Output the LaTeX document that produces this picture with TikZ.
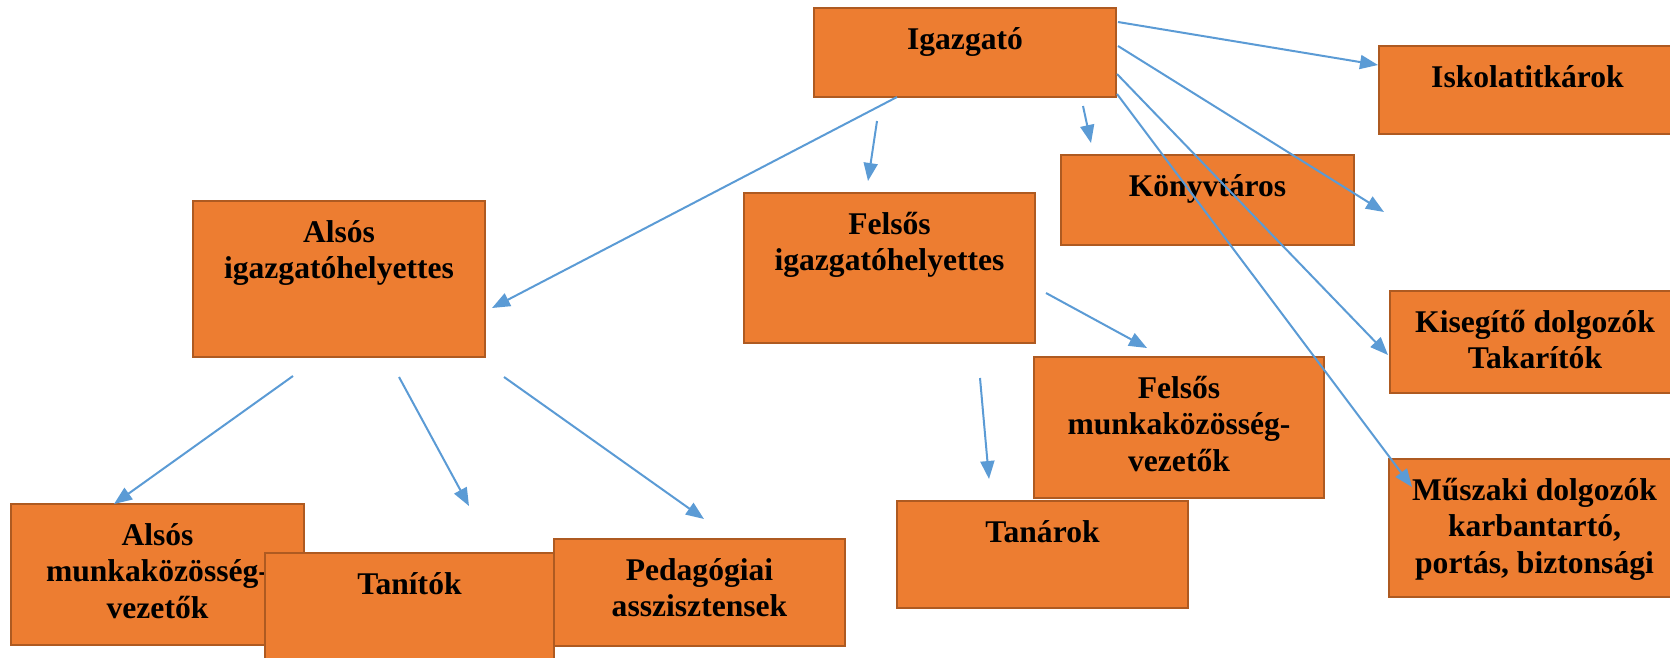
\documentclass[tikz,border=0pt]{standalone}
\usepackage{fontspec}
\setmainfont{Liberation Serif}
\usetikzlibrary{arrows.meta}
\definecolor{boxfill}{HTML}{ED7D31}
\definecolor{boxedge}{HTML}{AE5A21}
\definecolor{arrowblue}{HTML}{5B9BD5}
% box text: width, height, text (first baseline 41pt below the top)
\newcommand{\boxtext}[3]{\parbox[t][#2][t]{#1}{\centering\rule{0pt}{41pt}#3}}
\tikzset{
  orgbox/.style={draw=boxedge,fill=boxfill,line width=2.4pt,inner sep=0pt,outer sep=0pt,
    anchor=north west,font=\bfseries\fontsize{31.6}{36.5}\selectfont},
  arr/.style={draw=arrowblue,line width=2pt,-{Triangle[length=18pt,width=14pt]}}
}
\begin{document}
\begin{tikzpicture}[x=1pt,y=-1pt]
  \useasboundingbox (0,0) rectangle (1670,657);
  \clip (0,0) rectangle (1670,657);
  % boxes
  \node[orgbox] (igazgato) at (814,8) {\boxtext{302pt}{89pt}{Igazgató}};
  \node[orgbox] (iskola) at (1379,46) {\boxtext{297pt}{88pt}{Iskolatitkárok}};
  \node[orgbox] (konyvtaros) at (1061,155) {\boxtext{293pt}{90pt}{Könyvtáros}};
  \node[orgbox] (felsoigh) at (744,193) {\boxtext{291pt}{150pt}{Felsős\\igazgatóhelyettes}};
  \node[orgbox] (alsoigh) at (193,201) {\boxtext{292pt}{156pt}{Alsós\\igazgatóhelyettes}};
  \node[orgbox] (kisegito) at (1390,291) {\boxtext{290pt}{102pt}{Kisegítő dolgozók\\Takarítók}};
  \node[orgbox] (felsomkv) at (1034,357) {\boxtext{290pt}{141pt}{Felsős\\munkaközösség-\\vezetők}};
  \node[orgbox] (muszaki) at (1389,459) {\boxtext{291pt}{138pt}{Műszaki dolgozók\\karbantartó,\\portás, biztonsági}};
  \node[orgbox] (tanarok) at (897,501) {\boxtext{291pt}{107pt}{Tanárok}};
  \node[orgbox] (alsomkv) at (11,504) {\boxtext{293pt}{141pt}{Alsós\\munkaközösség-\\vezetők}};
  \node[orgbox] (tanitok) at (265,553) {\boxtext{289pt}{117pt}{Tanítók}};
  \node[orgbox] (pedagogiai) at (554,539) {\boxtext{291pt}{107pt}{Pedagógiai\\asszisztensek}};
  % arrow ends
  \coordinate (ig1) at (1118,22);  \coordinate (isk) at (1378,65);
  \coordinate (ig2) at (1118,46);  \coordinate (ures) at (1384,212);
  \coordinate (ig3) at (1117,74);  \coordinate (kis) at (1388,355);
  \coordinate (ig4) at (1117,94);  \coordinate (mus) at (1412,487);
  \coordinate (ig5) at (1083,106); \coordinate (kon) at (1091,143);
  \coordinate (ig6) at (877,121);  \coordinate (fih) at (868,181);
  \coordinate (ig7) at (897,97);   \coordinate (aih) at (492,308);
  \coordinate (fe1) at (1046,293); \coordinate (fmk) at (1147,348);
  \coordinate (fe2) at (980,378);  \coordinate (tnr) at (989,479);
  \coordinate (al1) at (293,376);  \coordinate (amk) at (114,504);
  \coordinate (al2) at (399,377);  \coordinate (tnt) at (469,506);
  \coordinate (al3) at (504,377);  \coordinate (ped) at (704,519);
  % arrows
  \draw[arr] (ig1) -- (isk);
  \draw[arr] (ig2) -- (ures);
  \draw[arr] (ig3) -- (kis);
  \draw[arr] (ig4) -- (mus);
  \draw[arr] (ig5) -- (kon);
  \draw[arr] (ig6) -- (fih);
  \draw[arr] (ig7) -- (aih);
  \draw[arr] (fe1) -- (fmk);
  \draw[arr] (fe2) -- (tnr);
  \draw[arr] (al1) -- (amk);
  \draw[arr] (al2) -- (tnt);
  \draw[arr] (al3) -- (ped);
\end{tikzpicture}
\end{document}
